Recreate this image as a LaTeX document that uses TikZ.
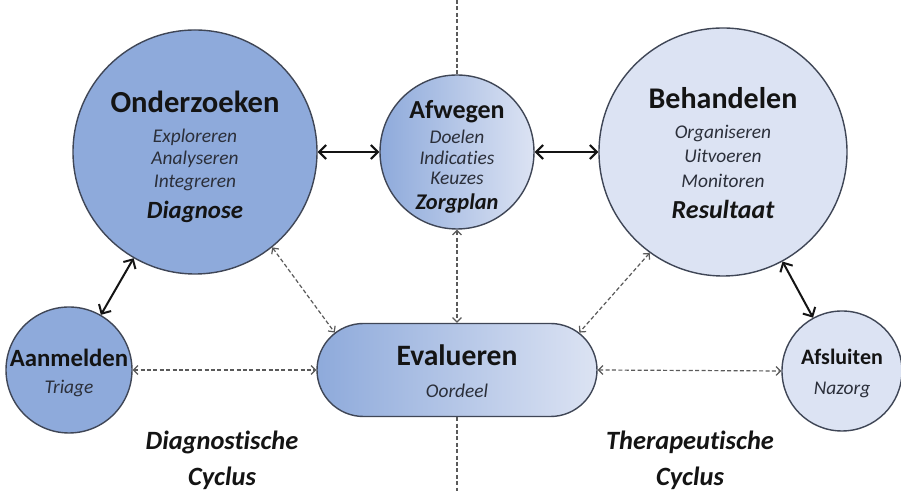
\documentclass[tikz,border=0pt]{standalone}
\usepackage{fontspec}
\setmainfont{Carlito}[Ligatures={NoCommon}]
\usetikzlibrary{arrows.meta,shapes.misc}

\definecolor{midblue}{HTML}{8EAADB}
\definecolor{paleblue}{HTML}{DCE3F3}
\definecolor{rim}{HTML}{3F4656}
\definecolor{ink}{HTML}{141414}
\definecolor{subink}{HTML}{2B2F3A}
\definecolor{dashgray}{HTML}{5A5A5A}

% title, sub-step and outcome lines inside a phase
\newcommand{\phasetitle}[2]{{\fontsize{#1}{#1}\selectfont\bfseries\upshape\color{ink}#2}}
\newcommand{\phaseout}[2]{{\fontsize{#1}{#1}\selectfont\bfseries\itshape\color{ink}#2}}

\tikzset{
  phase/.style={circle, draw=rim, line width=0.7pt, inner sep=0pt},
  darkfill/.style={fill=midblue},
  lightfill/.style={fill=paleblue},
  shadedfill/.style={left color=midblue, right color=paleblue},
  solidlink/.style={line width=1pt, draw=ink,
    {Straight Barb[length=3.5pt,width=7pt]}-{Straight Barb[length=3.5pt,width=7pt]}},
  dashlink/.style={line width=0.6pt, draw=dashgray, dash pattern=on 2pt off 1.2pt,
    {Straight Barb[length=2.2pt,width=4.4pt]}-{Straight Barb[length=2.2pt,width=4.4pt]}},
  divider/.style={line width=0.6pt, draw=dashgray, dash pattern=on 2pt off 1.2pt},
  txt/.style={align=center, text=subink, inner sep=0pt},
  cyclelabel/.style={align=center, text=ink, inner sep=0pt,
    font=\fontsize{13.2}{18}\selectfont\bfseries\itshape},
}

\begin{document}
\begin{tikzpicture}[x=0.5pt,y=0.5pt]
\useasboundingbox (0,0) rectangle (901,491);
\fill[white] (0,0) rectangle (901,491);

% phase shapes
\node[phase, darkfill,  minimum size=122pt] (onder) at (195,339) {};
\node[phase, shadedfill, minimum size=77pt] (afweg) at (457,339) {};
\node[phase, lightfill, minimum size=124pt] (behan) at (723,339) {};
\node[phase, darkfill,  minimum size=63pt]  (aanm)  at (69,121) {};
\node[phase, lightfill, minimum size=60pt]  (afsl)  at (842,120) {};
\node[rounded rectangle, draw=rim, line width=0.7pt, shadedfill, inner sep=0pt,
      minimum width=140pt, minimum height=46.5pt] (eval) at (457,121) {};

% dashed divider between the two cycles
\coordinate (topend) at (457,491);
\coordinate (botend) at (457,0);
\draw[divider] (topend) -- (afweg.north);
\draw[divider] (eval.south) -- (botend);

% main flow
\draw[solidlink] (onder) -- (afweg);
\draw[solidlink] (afweg) -- (behan);
\draw[solidlink] (onder) -- (aanm);
\draw[solidlink] (behan) -- (afsl);

% evaluation links
\draw[dashlink] (onder.-51) -- (eval.163);
\draw[dashlink] (behan.234) -- (eval.17);
\draw[dashlink] (afweg.south) -- (eval.north);
\draw[dashlink] (aanm.east) -- (eval.west);
\draw[dashlink] (eval.east) -- (afsl.west);

% phase texts
\node[txt, font=\fontsize{9.7}{11.25}\selectfont\itshape] (onder-t) at (195,334)
  {\phasetitle{15.3}{Onderzoeken}\\[3.6pt] Exploreren\\ Analyseren\\ Integreren\\[4.65pt] \phaseout{12.4}{Diagnose}};
\node[txt, font=\fontsize{9.7}{10.25}\selectfont\itshape] (afweg-t) at (457,334)
  {\phasetitle{13}{Afwegen}\\[2.2pt] Doelen\\ Indicaties\\ Keuzes\\[2.25pt] \phaseout{11.2}{Zorgplan}};
\node[txt, font=\fontsize{9.7}{12.25}\selectfont\itshape] (behan-t) at (723,338)
  {\phasetitle{15}{Behandelen}\\[2.6pt] Organiseren\\ Uitvoeren\\ Monitoren\\[3.25pt] \phaseout{13}{Resultaat}};
\node[txt, font=\fontsize{9.7}{13.5}\selectfont\itshape] (aanm-t) at (69,118)
  {\phasetitle{12.4}{Aanmelden}\\ Triage};
\node[txt, font=\fontsize{9.7}{15.9}\selectfont\itshape] (eval-t) at (457,120)
  {\phasetitle{14.8}{Evalueren}\\ Oordeel};
\node[txt, font=\fontsize{9.7}{15}\selectfont\itshape] (afsl-t) at (842,118)
  {\phasetitle{11}{Afsluiten}\\ Nazorg};

% cycle names
\node[cyclelabel] (diag) at (222,31) {Diagnostische\\Cyclus};
\node[cyclelabel] (ther) at (690,31) {Therapeutische\\Cyclus};
\end{tikzpicture}
\end{document}
